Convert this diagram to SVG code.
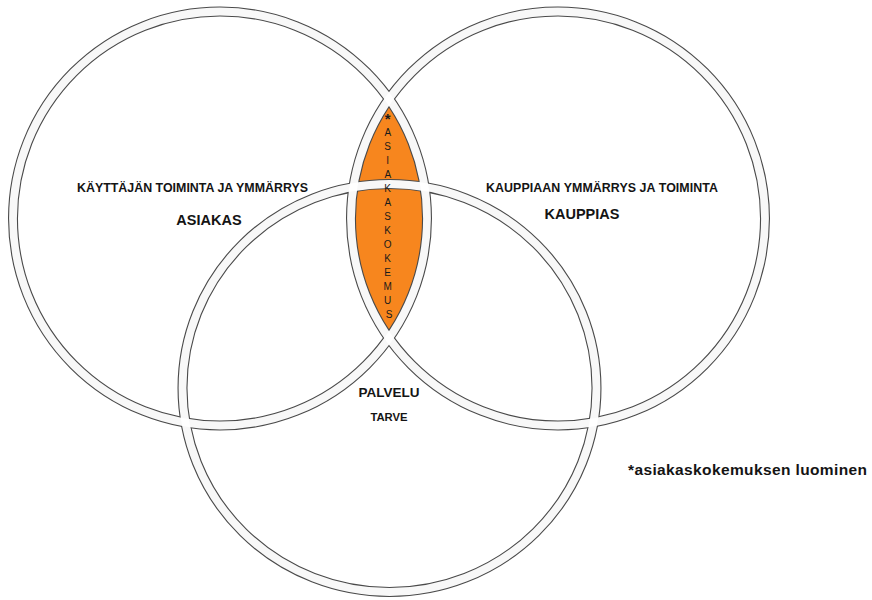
<svg xmlns="http://www.w3.org/2000/svg" width="872" height="600" viewBox="0 0 872 600">
  <style>
    .edge { fill: none; stroke: #4a4a4a; stroke-width: 10; }
    .band { fill: none; stroke: #ffffff; stroke-width: 7.8; stroke-opacity: 0.96; }
    .lbl { font-family: "Liberation Sans", Arial, sans-serif; font-weight: bold; fill: #141414; text-anchor: middle; }
    .vert { font-family: "Liberation Sans", Arial, sans-serif; font-size: 10px; fill: #1a1a1a; text-anchor: middle; }
  </style>
  <rect width="872" height="600" fill="#ffffff"/>

  <!-- overlap of the two upper circles -->
  <path id="overlap" d="M389 98.5 A207 207 0 0 1 389 337.5 A207 207 0 0 1 389 98.5 Z" fill="#f7861e"/>

  <!-- ring outlines first, then the light bands so crossings stay soft -->
  <g id="rings">
    <circle class="edge" cx="220" cy="218.5" r="207"/>
    <circle class="edge" cx="558" cy="218.5" r="207"/>
    <ellipse class="edge" cx="389.5" cy="388" rx="207" ry="204"/>
    <circle class="band" cx="220" cy="218.5" r="207"/>
    <circle class="band" cx="558" cy="218.5" r="207"/>
    <ellipse class="band" cx="389.5" cy="388" rx="207" ry="204"/>
  </g>

  <g id="asiakas">
    <text class="lbl" x="192.5" y="192" font-size="12.4" textLength="231">KÄYTTÄJÄN TOIMINTA JA YMMÄRRYS</text>
    <text class="lbl" x="209" y="225" font-size="14.5">ASIAKAS</text>
  </g>

  <g id="kauppias">
    <text class="lbl" x="602" y="192" font-size="12.4" textLength="232">KAUPPIAAN YMMÄRRYS JA TOIMINTA</text>
    <text class="lbl" x="582" y="219" font-size="14.5">KAUPPIAS</text>
  </g>

  <g id="palvelu">
    <text class="lbl" x="389" y="397" font-size="13.5">PALVELU</text>
    <text class="lbl" x="389" y="421" font-size="11.3">TARVE</text>
  </g>

  <g id="asiakaskokemus">
    <text class="vert">
      <tspan x="389" y="124" font-size="15" font-weight="bold">*</tspan>
      <tspan x="389" y="135.5">A</tspan>
      <tspan x="389" y="149.5">S</tspan>
      <tspan x="389" y="163.5">I</tspan>
      <tspan x="389" y="177.5">A</tspan>
      <tspan x="389" y="191.5">K</tspan>
      <tspan x="389" y="205.5">A</tspan>
      <tspan x="389" y="219.5">S</tspan>
      <tspan x="389" y="233.5">K</tspan>
      <tspan x="389" y="247.5">O</tspan>
      <tspan x="389" y="261.5">K</tspan>
      <tspan x="389" y="275.5">E</tspan>
      <tspan x="389" y="289.5">M</tspan>
      <tspan x="389" y="303.5">U</tspan>
      <tspan x="389" y="317.5">S</tspan>
    </text>
  </g>

  <g id="note">
    <text class="lbl" x="747.5" y="475" font-size="15.5" textLength="239">*asiakaskokemuksen luominen</text>
  </g>
</svg>
